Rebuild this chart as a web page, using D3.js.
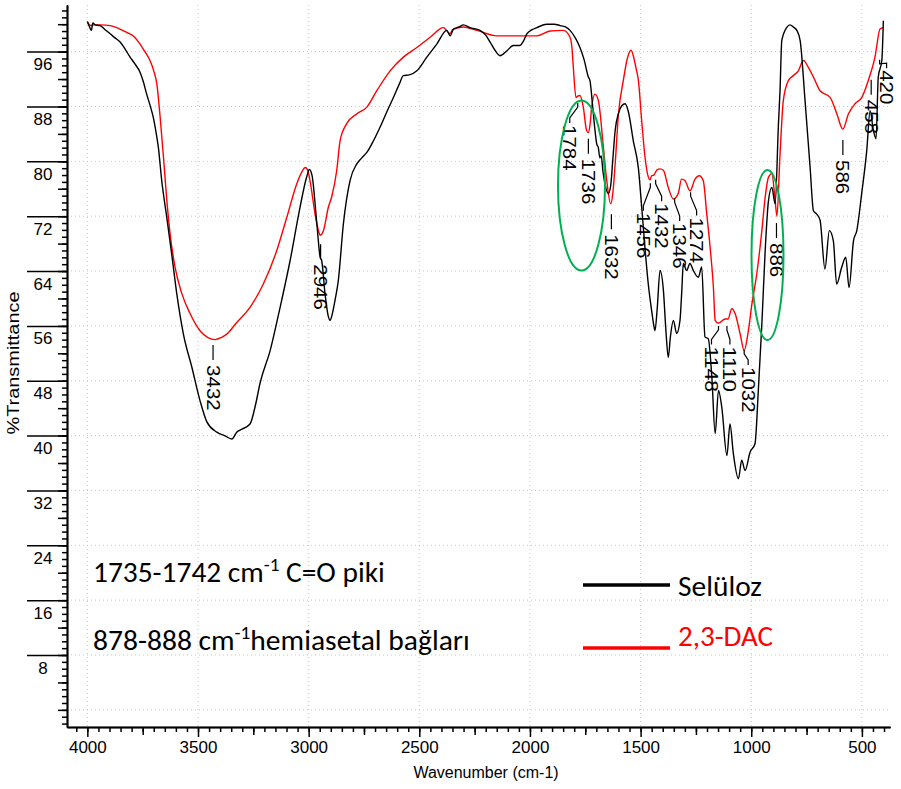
<!DOCTYPE html>
<html>
<head>
<meta charset="utf-8">
<script src="https://cdn.jsdelivr.net/npm/d3@7"></script>
<style>
body { margin: 0; background: #fff; }
</style>
</head>
<body>
<div id="chart"></div>
<script>
// Selüloz (black)
var selulozWn = [4000, 3990, 3982, 3975, 3965, 3943, 3920, 3897, 3875, 3852, 3830, 3807, 3785, 3762, 3747, 3732, 3717, 3702, 3690, 3679,
  3664, 3641, 3619, 3596, 3566, 3528, 3491, 3460, 3415, 3380, 3347, 3325, 3310, 3265, 3240, 3220, 3174, 3129, 3084, 3039,
  3010, 2997, 2985, 2963, 2948, 2941, 2926, 2912, 2903, 2895, 2881, 2866, 2843, 2813, 2783, 2760, 2737, 2707, 2677, 2647,
  2617, 2590, 2572, 2545, 2511, 2466, 2421, 2376, 2361, 2345, 2320, 2301, 2271, 2226, 2200, 2180, 2158, 2135, 2105, 2075,
  2045, 2030, 2014, 1990, 1969, 1924, 1890, 1864, 1840, 1819, 1795, 1774, 1755, 1736, 1729, 1718, 1706, 1698, 1691, 1684,
  1678, 1670, 1661, 1646, 1635, 1625, 1615, 1600, 1585, 1570, 1555, 1533, 1510, 1495, 1480, 1465, 1450, 1440, 1435, 1425,
  1412, 1397, 1385, 1375, 1365, 1352, 1337, 1322, 1314, 1307, 1292, 1277, 1262, 1239, 1224, 1209, 1194, 1178, 1163, 1148,
  1133, 1110, 1096, 1081, 1058, 1043, 1028, 1005, 983, 968, 952, 937, 922, 907, 892, 877, 870, 862, 840, 825,
  810, 794, 779, 757, 734, 719, 704, 689, 667, 647, 629, 614, 591, 573, 558, 538, 523, 501, 478, 463,
  448, 436, 426, 410, 403];
var selulozT = [100.4, 99.6, 99.1, 100.2, 99.9, 99.8, 99.2, 98.6, 98.0, 97.4, 96.4, 95.2, 94.2, 93.0, 91.6, 89.8, 88.2, 86.4, 84.3, 82.0,
  77.2, 71.8, 66.5, 60.7, 54.8, 50.0, 45.1, 42.0, 40.5, 40.0, 39.5, 40.5, 40.8, 41.7, 44.5, 47.6, 52.4, 58.7, 65.5, 73.3,
  77.6, 78.8, 78.0, 70.9, 66.0, 65.5, 60.7, 57.5, 56.8, 57.5, 59.7, 62.6, 70.9, 77.2, 79.6, 80.5, 81.3, 83.0, 85.0, 87.2,
  89.3, 91.3, 92.5, 92.6, 93.2, 95.2, 97.1, 99.1, 98.3, 99.3, 99.6, 99.9, 99.5, 99.1, 98.4, 97.4, 96.2, 95.4, 96.1, 96.9,
  96.9, 97.5, 98.6, 99.2, 99.5, 100.0, 100.0, 99.8, 99.6, 99.1, 98.0, 96.6, 94.8, 92.3, 91.8, 88.5, 84.5, 82.5, 82.0, 80.5,
  80.8, 78.5, 76.7, 75.3, 76.5, 80.5, 84.5, 87.0, 88.1, 88.4, 87.2, 83.0, 79.0, 73.3, 67.3, 62.0, 58.2, 56.0, 55.3, 58.5,
  64.1, 61.2, 55.0, 51.4, 54.5, 56.8, 54.9, 56.8, 61.0, 65.1, 64.1, 65.1, 64.1, 63.1, 64.6, 54.4, 54.1, 48.5, 40.3, 46.6,
  44.1, 37.1, 41.7, 37.4, 33.7, 36.4, 34.9, 37.6, 38.8, 46.6, 56.3, 67.0, 74.3, 76.2, 73.8, 85.5, 90.3, 97.6, 99.5, 99.9,
  99.6, 99.1, 97.6, 88.9, 79.1, 72.8, 72.3, 71.4, 64.3, 69.9, 68.4, 62.1, 64.6, 66.0, 61.6, 68.4, 69.9, 75.3, 81.6, 87.4,
  84.5, 83.3, 92.3, 94.7, 100.5];

// 2,3-DAC (red)
var dacWn = [4000, 3985, 3973, 3940, 3897, 3860, 3822, 3790, 3762, 3740, 3717, 3700, 3686, 3671, 3656, 3641, 3626, 3604, 3573, 3536,
  3491, 3455, 3423, 3395, 3370, 3325, 3265, 3205, 3144, 3099, 3054, 3030, 3016, 3005, 2993, 2971, 2955, 2948, 2933, 2911,
  2896, 2873, 2858, 2828, 2783, 2737, 2692, 2632, 2572, 2511, 2451, 2391, 2361, 2350, 2301, 2240, 2150, 2050, 1969, 1909,
  1849, 1819, 1810, 1804, 1792, 1784, 1774, 1759, 1744, 1736, 1728, 1721, 1706, 1691, 1668, 1653, 1635, 1625, 1615, 1600,
  1578, 1560, 1543, 1530, 1520, 1510, 1495, 1480, 1465, 1458, 1450, 1440, 1425, 1412, 1397, 1375, 1352, 1330, 1315, 1300,
  1277, 1254, 1235, 1217, 1201, 1186, 1171, 1163, 1150, 1141, 1118, 1105, 1088, 1073, 1050, 1032, 1013, 997, 975, 952,
  937, 922, 907, 892, 884, 870, 855, 832, 810, 787, 764, 742, 719, 689, 643, 613, 586, 561, 531, 501,
  471, 441, 418, 403];
var dacT = [100.3, 99.8, 99.9, 99.9, 99.8, 99.4, 98.8, 98.2, 97.1, 96.0, 94.7, 93.2, 91.3, 86.4, 80.6, 74.3, 69.4, 64.6, 60.7, 57.8,
  55.3, 54.3, 54.0, 54.3, 54.8, 56.5, 58.7, 62.1, 67.0, 71.8, 76.7, 78.5, 79.1, 78.8, 77.0, 72.3, 69.8, 69.2, 69.9, 73.3,
  74.8, 78.7, 83.0, 85.5, 86.9, 87.9, 90.3, 93.2, 95.2, 96.6, 98.1, 99.5, 98.6, 99.2, 99.6, 99.1, 98.3, 98.3, 98.3, 99.0,
  99.1, 98.1, 96.5, 93.7, 89.3, 89.5, 89.6, 87.9, 84.5, 84.2, 85.5, 87.9, 89.8, 88.9, 82.0, 77.2, 73.8, 75.5, 79.6, 86.9,
  91.8, 95.0, 96.2, 95.0, 93.5, 91.8, 85.9, 80.6, 77.7, 77.3, 77.9, 78.0, 78.8, 78.9, 78.7, 76.2, 74.5, 75.3, 77.4, 77.2,
  75.7, 77.4, 77.9, 77.2, 72.3, 67.5, 61.6, 56.8, 56.4, 56.5, 57.0, 57.0, 58.5, 57.8, 54.8, 52.4, 55.3, 59.2, 63.6, 69.9,
  74.8, 77.7, 78.2, 74.3, 72.0, 81.0, 88.9, 91.8, 92.5, 93.2, 94.7, 93.7, 92.3, 90.3, 89.3, 86.9, 84.7, 86.9, 88.4, 89.3,
  91.8, 95.2, 99.3, 99.5];

var xTicks = [4000, 3500, 3000, 2500, 2000, 1500, 1000, 500];
var yTicks = [8, 16, 24, 32, 40, 48, 56, 64, 72, 80, 88, 96];
var peakLabels = ["3432", "2946", "1784", "1736", "1632", "1456", "1432", "1346", "1274", "1148", "1110", "1032", "886", "586", "458", "420"];

// where each label sits: leader start / text start in %T, sideways bend in px
var labelLayout = {
  "3432": {t0: 53.2}, "2946": {t0: 67.9}, "1736": {t0: 83.3}, "1632": {t0: 72.3},
  "886": {t0: 71.0}, "586": {t0: 83.1}, "458": {t0: 91.9},
  "1784": {t0: 88.5, t1: 85.3, bend: -8}, "1456": {t0: 76.8, t1: 72.5, bend: -7},
  "1432": {t0: 77.3, t1: 73.9, bend: 6}, "1346": {t0: 74.6, t1: 71.0, bend: 5},
  "1274": {t0: 75.5, t1: 71.8, bend: 6}, "1148": {t0: 56.0, t1: 53.0, bend: -7},
  "1110": {t0: 56.0, t1: 53.0, bend: 3}, "1032": {t0: 52.5, t1: 50.0, bend: 4},
  "420": {t0: 94.8, t1: 93.3, bend: 7}
};

var W = 901, H = 789;
var narrow = "'Liberation Sans Narrow', 'Arial Narrow', sans-serif";
var calib = "Carlito, Calibri, Lato, 'Open Sans', sans-serif";

var svg = d3.select("#chart").append("svg").attr("width", W).attr("height", H)
  .style("background", "#fff");

var x = d3.scaleLinear().domain([4092, 373]).range([67, 890]);
var y = d3.scaleLinear().domain([-2.5, 102.8]).range([727, 5]);

// grid
var grid = svg.append("g").attr("stroke", "#c8c8c8").attr("stroke-dasharray", "1,3").attr("stroke-width", 1);
xTicks.forEach(function(v) {
  grid.append("line").attr("x1", x(v)).attr("x2", x(v)).attr("y1", 5).attr("y2", 727);
});
[0].concat(yTicks).forEach(function(v) {
  grid.append("line").attr("x1", 67).attr("x2", 890).attr("y1", y(v)).attr("y2", y(v));
});

// axes
var xMinor = d3.axisBottom(x).tickValues(d3.range(400, 4051, 50)).tickSize(5).tickSizeOuter(0).tickFormat("");
var xMid = d3.axisBottom(x).tickValues(d3.range(750, 4000, 500)).tickSize(8).tickSizeOuter(0).tickFormat("");
var xMajor = d3.axisBottom(x).tickValues(xTicks).tickSize(10).tickSizeOuter(0).tickPadding(4).tickFormat(d3.format("d"));
[xMinor, xMid, xMajor].forEach(function(ax) {
  var g = svg.append("g").attr("transform", "translate(0,727)").call(ax);
  g.select(".domain").attr("stroke-width", 1.5);
  g.selectAll(".tick line").attr("stroke-width", 1.5);
  g.selectAll("text").attr("font-family", narrow).attr("font-size", 17).attr("fill", "#000");
});

var yMinor = d3.axisLeft(y).tickValues(d3.range(-2, 103, 1)).tickSize(5).tickSizeOuter(0).tickFormat("");
var yMid = d3.axisLeft(y).tickValues(d3.range(0, 103, 4)).tickSize(9).tickSizeOuter(0).tickFormat("");
var yMajor = d3.axisLeft(y).tickValues(yTicks).tickSize(40).tickSizeOuter(0).tickFormat("");
[yMinor, yMid, yMajor].forEach(function(ax) {
  var g = svg.append("g").attr("transform", "translate(67,0)").call(ax);
  g.select(".domain").attr("stroke-width", 1.5);
  g.selectAll(".tick line").attr("stroke-width", 1.5);
});
svg.append("g").selectAll("text").data(yTicks).enter().append("text")
  .attr("x", 43).attr("y", function(d) { return y(d) + 18.5; })
  .attr("text-anchor", "middle").attr("font-family", narrow).attr("font-size", 17)
  .text(function(d) { return d; });

svg.append("text").attr("transform", "translate(19,363) rotate(-90)")
  .attr("text-anchor", "middle").attr("font-family", "'Liberation Sans', Arial, sans-serif").attr("font-size", 16)
  .attr("textLength", 143).attr("lengthAdjust", "spacingAndGlyphs")
  .text("%Transmittance");
svg.append("text").attr("x", 486).attr("y", 778)
  .attr("text-anchor", "middle").attr("font-family", narrow).attr("font-size", 16)
  .text("Wavenumber (cm-1)");

// spectra
var line = d3.line().curve(d3.curveMonotoneX)
  .x(function(d) { return x(d[0]); }).y(function(d) { return y(d[1]); });
svg.append("path").datum(dacWn.map(function(w, i) { return [w, dacT[i]]; }))
  .attr("d", line).attr("fill", "none").attr("stroke", "#ff0000").attr("stroke-width", 1.4);
svg.append("path").datum(selulozWn.map(function(w, i) { return [w, selulozT[i]]; }))
  .attr("d", line).attr("fill", "none").attr("stroke", "#000").attr("stroke-width", 1.4);

// peak labels
peakLabels.forEach(function(p) {
  var L = labelLayout[p];
  var px = x(+p), y0 = y(L.t0);
  var g = svg.append("g").attr("transform", "translate(" + px + "," + y0 + ")");
  var b = L.bend || 0;
  var y1 = L.t1 != null ? y(L.t1) - y0 : 20;
  var d = L.bend ? "M0,0v4L" + b + "," + (y1 - 7) + "V" + (y1 - 2) : "M0,0v15";
  g.append("path").attr("d", d).attr("fill", "none").attr("stroke", "#000").attr("stroke-width", 1.2);
  g.append("text").attr("transform", "translate(" + b + "," + y1 + ") rotate(90)")
    .attr("dy", "0.36em").attr("font-family", "'Liberation Sans', Arial, sans-serif").attr("font-size", 18)
    .attr("textLength", p.length * 11.4).attr("lengthAdjust", "spacingAndGlyphs")
    .text(p);
});

// highlight ellipses
svg.append("ellipse").attr("cx", 581.5).attr("cy", 185.5).attr("rx", 23.5).attr("ry", 85)
  .attr("fill", "none").attr("stroke", "#00b050").attr("stroke-width", 2);
svg.append("ellipse").attr("cx", 767.5).attr("cy", 255).attr("rx", 16).attr("ry", 85)
  .attr("fill", "none").attr("stroke", "#00b050").attr("stroke-width", 2);

// squeeze a text horizontally so it spans the given width from its x
function fitWidth(t, x0, width) {
  var w = t.node().getComputedTextLength();
  var k = width / w;
  t.attr("transform", "translate(" + x0 + ",0) scale(" + k + ",1) translate(" + (-x0) + ",0)");
}

// notes
var n1 = svg.append("text").attr("x", 93).attr("y", 582).attr("font-family", calib).attr("font-size", 29);
n1.append("tspan").text("1735-1742 cm");
n1.append("tspan").attr("dy", -11).attr("font-size", 19).text("-1");
n1.append("tspan").attr("dy", 11).text(" C=O piki");
fitWidth(n1, 93, 292);
var n2 = svg.append("text").attr("x", 93).attr("y", 650).attr("font-family", calib).attr("font-size", 29);
n2.append("tspan").text("878-888 cm");
n2.append("tspan").attr("dy", -11).attr("font-size", 19).text("-1");
n2.append("tspan").attr("dy", 11).text("hemiasetal bağları");
fitWidth(n2, 93, 377);

// legend
svg.append("line").attr("x1", 583).attr("x2", 670).attr("y1", 585).attr("y2", 585)
  .attr("stroke", "#000").attr("stroke-width", 3.5);
var l1 = svg.append("text").attr("x", 678).attr("y", 596).attr("font-family", calib).attr("font-size", 29)
  .text("Selüloz");
fitWidth(l1, 678, 84);
svg.append("line").attr("x1", 583).attr("x2", 670).attr("y1", 648).attr("y2", 648)
  .attr("stroke", "#ff0000").attr("stroke-width", 3.5);
var l2 = svg.append("text").attr("x", 678).attr("y", 646).attr("font-family", calib).attr("font-size", 29)
  .attr("fill", "#ff0000").text("2,3-DAC");
fitWidth(l2, 678, 95);
</script>
</body>
</html>
